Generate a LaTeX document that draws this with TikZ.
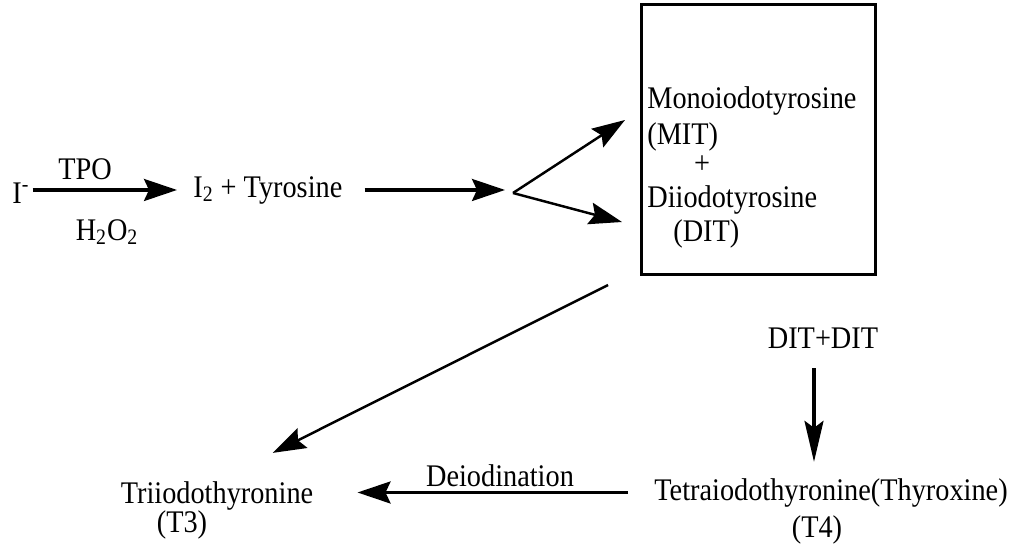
\documentclass[tikz,border=0pt]{standalone}
\usepackage{fontspec}
\setmainfont{Liberation Serif}[FakeStretch=0.9]
\usetikzlibrary{arrows.meta}
\tikzstyle{chem}=[inner sep=0pt, font=\fontsize{17.9}{21}\selectfont]
\tikzstyle{pool box}=[draw, line width=1.7pt, minimum width=4.7cm, minimum height=5.42cm, inner sep=0pt]
\tikzstyle{rxn}=[draw, line width=1.8pt, -{Stealth[length=0.66cm, width=0.44cm, inset=0.1cm]}]
\tikzstyle{thin rxn}=[rxn, line width=1.4pt]
\tikzstyle{long rxn}=[draw, line width=1.8pt, -{Stealth[length=0.82cm, width=0.38cm, inset=0.14cm]}]

\begin{document}
\begin{tikzpicture}[x=0.02cm, y=-0.02cm]
  \useasboundingbox (0,0) rectangle (1018,548);
    % Iodide is oxidised and taken up by tyrosine
    \node[chem, anchor=base west] (iodide) at (12,203) {I\textsuperscript{-}};
    \node[chem, anchor=base] (tpo) at (85,179) {TPO};
    \node[chem, anchor=base] (peroxide) at (107,240) {H\textsubscript{2}O\textsubscript{2}};
    \node[chem, anchor=base west] (tyr) at (193,197) {I\textsubscript{2} + Tyrosine};
    % The box with MIT and DIT
    \node[pool box] (pool) at (758.5,139.5) {};
    \node[chem, anchor=base west] (mono) at (647,108) {Monoiodotyrosine};
    \node[chem, anchor=base west] (mit) at (647,144) {(MIT)};
    \node[chem, anchor=base] (plus) at (702,173) {+};
    \node[chem, anchor=base west] (di) at (647,207) {Diiodotyrosine};
    \node[chem, anchor=base west] (dit) at (673,241) {(DIT)};
    % Coupling and deiodination
    \node[chem, anchor=base] (ditdit) at (823,348) {DIT+DIT};
    \node[chem, anchor=base] (tetra) at (831,500) {Tetraiodothyronine(Thyroxine)};
    \node[chem, anchor=base] (t4) at (817,537) {(T4)};
    \node[chem, anchor=base] (tri) at (217,503) {Triiodothyronine};
    \node[chem, anchor=base] (t3) at (182,532) {(T3)};
    \node[chem, anchor=base] (deiod) at (500,486) {Deiodination};
    % Free ends of the split
    \coordinate (branch) at (513,193);
    \coordinate (upTip) at (625,120);
    \coordinate (lowTip) at (622,222);
    \coordinate (diagStart) at (608,285);
    % Connectors
    \path[rxn, shorten <=0.06cm, shorten >=0.32cm] (tyr.west -| iodide.east) -- (tyr.west);
    \path[rxn, shorten <=0.44cm, shorten >=0.16cm] (tyr.east) -- (tyr.east -| branch);
    \path[thin rxn] (branch) -- (upTip);
    \path[thin rxn] (branch) -- (lowTip);
    \path[thin rxn, shorten >=1.25cm] (diagStart) -- (tri.north);
    \path[long rxn, shorten <=0.4cm, shorten >=0.32cm] ([xshift=-0.18cm]ditdit.south) -- ([xshift=-0.18cm]ditdit.south |- tetra.north);
    \path[rxn, shorten <=0.52cm, shorten >=0.88cm] (tetra.west) -- (tetra.west -| tri.east);
\end{tikzpicture}
\end{document}
